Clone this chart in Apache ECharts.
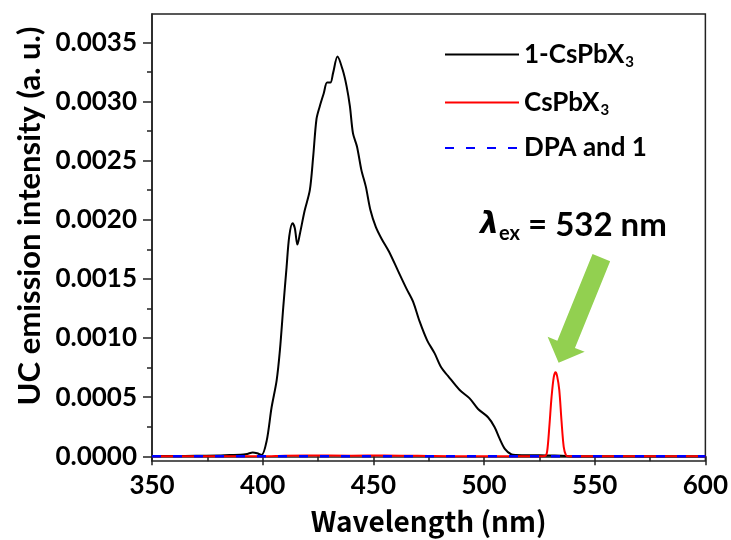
<!DOCTYPE html>
<html>
<head>
<meta charset="utf-8">
<script src="https://cdn.jsdelivr.net/npm/echarts@6/dist/echarts.min.js"></script>
<style>
  html, body { margin: 0; padding: 0; background: #fff; }
  #chart { width: 731px; height: 540px; }
</style>
</head>
<body>
<div id="chart"></div>
<script>
// Upconversion emission spectra (wavelength in nm, intensity in a. u.)
const seriesNames = ['1-CsPbX3', 'CsPbX3', 'DPA and 1'];

const blackWl = [350, 360, 370, 380, 385, 390, 393, 395.5, 397.5, 399.5, 401.8, 404, 406.3, 407.8, 409.3,
  410.8, 412, 413.5, 414.5, 415.7, 416.8, 419, 421.3, 422.8, 424.3, 425.8, 427.6, 429.1, 430.6, 431.8,
  433.8, 436.1, 437.9, 439.4, 440.8, 442.6, 444.6, 446.6, 448.7, 451.1, 453.7, 457.1, 461.1, 464.9,
  467.9, 470.9, 474.3, 477.7, 480.7, 483.7, 489, 493.5, 497.3, 501.8, 504.8, 507.1, 509.4, 512.4,
  514.6, 520, 525, 530, 535, 540, 560, 580, 600];
const blackVal = [0.000003, 0.000003, 0.000004, 0.000006, 0.00001, 0.000012, 0.00002, 0.000032, 0.000025,
  0.00001, 0.00013, 0.00041, 0.00064, 0.0009, 0.00126, 0.0016, 0.00186, 0.00197, 0.00193, 0.00179,
  0.00188, 0.00208, 0.00225, 0.00253, 0.00285, 0.00296, 0.00307, 0.00316, 0.00316, 0.00324, 0.00338,
  0.00327, 0.00313, 0.00296, 0.00273, 0.00262, 0.00242, 0.00228, 0.00208, 0.00194, 0.00184, 0.00173,
  0.00157, 0.00142, 0.00131, 0.00114, 0.00098, 0.00087, 0.00075, 0.00068, 0.00056, 0.00049, 0.0004,
  0.00033, 0.000246, 0.000147, 0.000063, 0.000015, 0.00001, 0.000008, 0.000008, 0.000006, 0.000005,
  0, 0, 0, 0];

const redWl = [350, 360, 380, 400, 410, 420, 440, 455, 470, 490, 510, 520, 525, 527.5, 528.5, 529.5,
  530.5, 531.5, 532.3, 533, 534, 535, 536, 537, 538, 540, 560, 600];
const redVal = [0, 0, 0, 0, 0.000005, 0.000006, 0.000005, 0.000006, 0.000004, 0, 0, 0, 0, 0.000002,
  0.00004, 0.00025, 0.0005, 0.00067, 0.00071, 0.00068, 0.00056, 0.0003, 0.00008, 0.00001, 0, 0, 0, 0];

const blueWl = [350, 400, 450, 500, 550, 600];
const blueVal = [0, 0, 0, 0, 0, 0];

const xTicks = [350, 400, 450, 500, 550, 600];
const yTicks = [0, 0.0005, 0.001, 0.0015, 0.002, 0.0025, 0.003, 0.0035];
const yMinorTicks = [0.00025, 0.00075, 0.00125, 0.00175, 0.00225, 0.00275, 0.00325];

// excitation arrow, tail and tip in data units
const arrowTail = [553, 0.00168];
const arrowTip = [533.7, 0.00079];

const pairs = (xs, ys) => xs.map((x, i) => [x, ys[i]]);

const FONT = 'Lato, "Open Sans", sans-serif';
const AXIS_COLOR = '#222';
const yMin = -0.00004, yMax = 0.00374;

const chart = echarts.init(document.getElementById('chart'));

const subRich = {
  t: { fontFamily: FONT, fontWeight: 'bold', fontSize: 26, color: '#000', lineHeight: 30 },
  s: { fontFamily: FONT, fontWeight: 'bold', fontSize: 15, color: '#000', lineHeight: 30, padding: [16, 0, 0, 1] }
};

chart.setOption({
  animation: false,
  grid: { left: 152, right: 25, top: 14, bottom: 79, show: true, borderColor: AXIS_COLOR, borderWidth: 1.5 },
  legend: {
    orient: 'vertical',
    left: 439,
    top: 34,
    itemWidth: 74,
    itemHeight: 14,
    itemGap: 17,
    data: seriesNames,
    itemStyle: { opacity: 0 },
    formatter: function (n) {
      if (n.slice(-1) === '3') return '{t|' + n.slice(0, -1) + '}{s|3}';
      return '{t|' + n + '}';
    },
    textStyle: { rich: subRich }
  },
  xAxis: {
    type: 'value', min: 350, max: 600, interval: 50,
    name: 'Wavelength (nm)', nameLocation: 'middle', nameGap: 46,
    nameTextStyle: { fontFamily: '"Noto Sans CJK JP"', fontWeight: 'bold', fontSize: 28, color: '#000' },
    axisLine: { show: true, lineStyle: { color: AXIS_COLOR, width: 1.5 } },
    axisTick: { show: true, length: 9, lineStyle: { color: AXIS_COLOR, width: 1.5 } },
    minorTick: { show: true, splitNumber: 2, length: 5, lineStyle: { color: AXIS_COLOR, width: 1.5 } },
    splitLine: { show: false },
    axisLabel: { fontFamily: FONT, fontWeight: 'bold', fontSize: 26, color: '#000', margin: 12,
      customValues: xTicks }
  },
  yAxis: [{
    type: 'value', min: yMin, max: yMax,
    axisLine: { show: true, lineStyle: { color: AXIS_COLOR, width: 1.5 } },
    axisTick: { show: true, length: 9, lineStyle: { color: AXIS_COLOR, width: 1.5 }, customValues: yTicks },
    splitLine: { show: false },
    axisLabel: { fontFamily: FONT, fontWeight: 'bold', fontSize: 26, color: '#000', margin: 15,
      customValues: yTicks, formatter: v => v.toFixed(4) }
  }, {
    type: 'value', min: yMin, max: yMax, position: 'left',
    axisLine: { show: false },
    axisTick: { show: true, length: 5, lineStyle: { color: AXIS_COLOR, width: 1.5 }, customValues: yMinorTicks },
    splitLine: { show: false },
    axisLabel: { show: false }
  }],
  series: [{
    name: seriesNames[0], type: 'line', data: pairs(blackWl, blackVal), showSymbol: false, symbol: 'none',
    smooth: 0.3, lineStyle: { color: '#000', width: 2 }, itemStyle: { color: '#000' }
  }, {
    name: seriesNames[1], type: 'line', data: pairs(redWl, redVal), showSymbol: false, symbol: 'none',
    smooth: 0.3, lineStyle: { color: '#ff0000', width: 2 }, itemStyle: { color: '#ff0000' }
  }, {
    name: seriesNames[2], type: 'line', data: pairs(blueWl, blueVal), showSymbol: false, symbol: 'none',
    lineStyle: { color: '#0000ff', width: 2.5, type: [9, 12] }, itemStyle: { color: '#0000ff' }
  }]
});

// Annotations: axis title, excitation label and green arrow
function drawAnnotations() {
  const tail = chart.convertToPixel({ gridIndex: 0 }, arrowTail);
  const tip = chart.convertToPixel({ gridIndex: 0 }, arrowTip);
  const dx = tip[0] - tail[0], dy = tip[1] - tail[1];
  const len = Math.hypot(dx, dy);
  const ux = dx / len, uy = dy / len;
  const px = -uy, py = ux;
  const shaftHalf = 9.5, headHalf = 20, headLen = 20;
  const bx = tip[0] - ux * headLen, by = tip[1] - uy * headLen;
  const pts = [
    [tail[0] + px * shaftHalf, tail[1] + py * shaftHalf],
    [bx + px * shaftHalf, by + py * shaftHalf],
    [bx + px * headHalf, by + py * headHalf],
    [tip[0], tip[1]],
    [bx - px * headHalf, by - py * headHalf],
    [bx - px * shaftHalf, by - py * shaftHalf],
    [tail[0] - px * shaftHalf, tail[1] - py * shaftHalf]
  ];

  chart.setOption({
    graphic: [{
      type: 'text', x: 30, y: 216, rotation: Math.PI / 2,
      style: { text: 'UC emission intensity (a. u.)', fontFamily: FONT, fontWeight: 'bold', fontSize: 31,
        fill: '#000', align: 'center', verticalAlign: 'middle' }
    }, {
      type: 'text', x: 480, y: 225,
      style: {
        text: '{l|λ}{e|ex}{n| = 532 nm}',
        verticalAlign: 'middle',
        rich: {
          l: { fontFamily: '"DejaVu Sans"', fontWeight: 'bold', fontStyle: 'italic', fontSize: 30, fill: '#000', lineHeight: 36 },
          e: { fontFamily: FONT, fontWeight: 'bold', fontSize: 20, fill: '#000', lineHeight: 36, padding: [18, 0, 0, 0] },
          n: { fontFamily: FONT, fontWeight: 'bold', fontSize: 33, fill: '#000', lineHeight: 36 }
        }
      }
    }, {
      type: 'polygon', shape: { points: pts },
      style: { fill: '#92d050' }
    }]
  });
}
drawAnnotations();
</script>
</body>
</html>
